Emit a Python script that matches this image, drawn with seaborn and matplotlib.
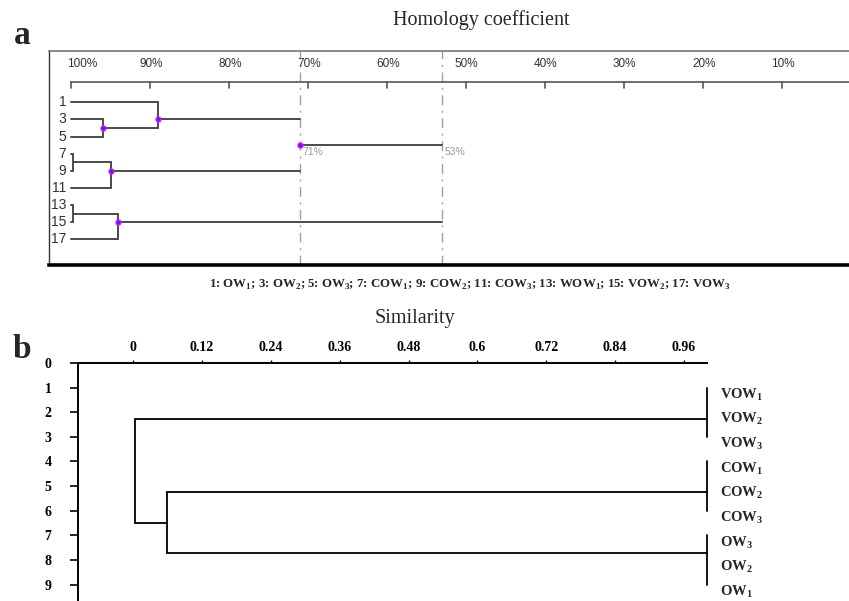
import numpy as np
import pandas as pd
import matplotlib
matplotlib.use("Agg")
import matplotlib.pyplot as plt
import seaborn as sns

# ---- data: panel a (homology coefficient, %) ----
a_leaves = ['1', '3', '5', '7', '9', '11', '13', '15', '17']
a_rows = [1, 3, 5, 7, 9, 11, 13, 15, 17]
# merges: (cluster, cluster, similarity %)
a_merges = [
    ('7', '9', 99.7),
    ('13', '15', 99.7),
    ('3', '5', 96.0),
    ('7+9', '11', 95.0),
    ('13+15', '17', 94.0),
    ('1', '3+5', 89.0),
    ('1+3+5', '7+9+11', 71.0),
    ('1+3+5+7+9+11', '13+15+17', 53.0),
]
a_cuts = [71, 53]
a_ticks = [100, 90, 80, 70, 60, 50, 40, 30, 20, 10]
a_ticklabels = ['100%', '90%', '80%', '70%', '60%', '50%', '40%', '30%', '20%', '10%']

# ---- data: panel b (similarity) ----
b_leaves = ['VOW_1', 'VOW_2', 'VOW_3', 'COW_1', 'COW_2', 'COW_3', 'OW_3', 'OW_2', 'OW_1']
b_rows = [1, 2, 3, 4, 5, 6, 7, 8, 9]
b_groups = ['VOW', 'COW', 'OW']
b_group_leaves = [[1, 2, 3], [4, 5, 6], [7, 8, 9]]
b_group_node = [2.28, 5.25, 7.73]
b_group_sim = 1.0
b_merges = [('COW', 'OW', 0.059), ('VOW', 'COW+OW', 0.003)]
b_ticks = [0, 0.12, 0.24, 0.36, 0.48, 0.6, 0.72, 0.84, 0.96]
b_ticklabels = ['0', '0.12', '0.24', '0.36', '0.48', '0.6', '0.72', '0.84', '0.96']

caption = ('1: OW$_{\\mathbf{1}}$; 3: OW$_{\\mathbf{2}}$; 5: OW$_{\\mathbf{3}}$; '
           '7: COW$_{\\mathbf{1}}$; 9: COW$_{\\mathbf{2}}$; 11: COW$_{\\mathbf{3}}$; '
           '13: WOW$_{\\mathbf{1}}$; 15: VOW$_{\\mathbf{2}}$; 17: VOW$_{\\mathbf{3}}$')

sns.set_style("white")
plt.rcParams['font.family'] = ['Liberation Serif', 'DejaVu Serif']
plt.rcParams['mathtext.fontset'] = 'custom'
plt.rcParams['mathtext.rm'] = 'Liberation Serif'
plt.rcParams['mathtext.bf'] = 'Liberation Serif:bold'

SANS = ['Liberation Sans', 'DejaVu Sans']

W, H = 849, 601
fig = plt.figure(figsize=(W / 100, H / 100), dpi=100)


def rect(x0, y0, x1, y1):
    return [x0 / W, 1 - y1 / H, (x1 - x0) / W, (y1 - y0) / H]


def snap(mid):
    if float(mid).is_integer():
        return mid
    lo = int(np.floor(mid))
    return lo if lo % 2 == 1 else lo + 1


# ================= panel a =================
axa = fig.add_axes(rect(49, 51, 849, 265))
axa.set_xlim(102.8, 1.5)
axa.set_ylim(20.0, -5.0)

nodes = {name: (100.0, r) for name, r in zip(a_leaves, a_rows)}
segs, dots = [], []
for left, right, s in a_merges:
    xa, ya = nodes[left]
    xb, yb = nodes[right]
    segs.append([(xa, ya), (s, ya)])
    segs.append([(xb, yb), (s, yb)])
    if s not in a_cuts:
        segs.append([(s, ya), (s, yb)])
    ny = snap((ya + yb) / 2)
    nodes[left + '+' + right] = (s, ny)
    if s < 99 and s != a_merges[-1][2]:
        dots.append((s, ny))

rows = []
for i, seg in enumerate(segs):
    for x, y in seg:
        rows.append({'seg': i, 'x': x, 'y': y})
seg_a = pd.DataFrame(rows)

# dash-dot cut lines
for c in a_cuts:
    axa.axvline(c, color='#a0a0a0', lw=1.0, linestyle=(0, (7, 4, 1.5, 4)), zorder=1)
    axa.text(c - 0.3, 6.2, f'{c}%', color='#9a9a9a', fontsize=7.5, va='top', ha='left',
             family=SANS)

sns.lineplot(data=seg_a, x='x', y='y', units='seg', estimator=None, sort=False,
             color='#4a4a4a', lw=1.4, ax=axa, zorder=2)
dot_df = pd.DataFrame(dots, columns=['x', 'y'])
sns.scatterplot(data=dot_df, x='x', y='y', ax=axa, s=13, color='#3030ff',
                edgecolor='#ff00ff', linewidth=0.9, zorder=3)

# ruler
axa.plot([100, 1.5], [-1.38, -1.38], color='#555555', lw=1.2, clip_on=False)
for t, lab in zip(a_ticks, a_ticklabels):
    axa.plot([t, t], [-1.38, -0.68], color='#555555', lw=1.2)
    axa.text(t - (1.4 if t == 100 else 0.1), -3.5, lab, ha='center', va='center',
             fontsize=8.5, color='#333333', family=SANS)

for lab, r in zip(a_leaves, a_rows):
    axa.text(100.6, r, lab, ha='right', va='center', fontsize=10, color='#333333',
             family=SANS)

axa.set_xticks([])
axa.set_yticks([])
axa.set_xlabel('')
axa.set_ylabel('')
axa.spines['right'].set_visible(False)
axa.spines['top'].set_color('#808080')
axa.spines['top'].set_linewidth(1.3)
axa.spines['left'].set_color('#333333')
axa.spines['left'].set_linewidth(1.0)
axa.spines['bottom'].set_color('black')
axa.spines['bottom'].set_linewidth(2.6)

# ================= panel b =================
axb = fig.add_axes(rect(78, 363, 707, 601))
axb.set_xlim(-0.096, 1.0)
axb.set_ylim(9.67, 0)

bnodes = {}
segs = []
for g, lv, ny in zip(b_groups, b_group_leaves, b_group_node):
    segs.append([(b_group_sim, min(lv)), (b_group_sim, max(lv))])
    bnodes[g] = (b_group_sim, ny)
for left, right, s in b_merges:
    xa, ya = bnodes[left]
    xb, yb = bnodes[right]
    segs.append([(xa, ya), (s, ya)])
    segs.append([(xb, yb), (s, yb)])
    segs.append([(s, ya), (s, yb)])
    bnodes[left + '+' + right] = (s, (ya + yb) / 2)

rows = []
for i, seg in enumerate(segs):
    for x, y in seg:
        rows.append({'seg': i, 'x': x, 'y': y})
seg_b = pd.DataFrame(rows)
sns.lineplot(data=seg_b, x='x', y='y', units='seg', estimator=None, sort=False,
             color='black', lw=1.3, ax=axb)
for ln in axb.lines:
    ln.set_clip_on(False)

for lab, r in zip(b_leaves, b_rows):
    name, sub = lab.split('_')
    axb.text(1.022, r + 0.28, name + '$_{\\mathbf{' + sub + '}}$', fontsize=10.5,
             fontweight='bold', ha='left', va='center', clip_on=False)

axb.xaxis.tick_top()
axb.set_xticks(b_ticks)
axb.set_xticklabels(b_ticklabels, fontsize=10, fontweight='bold')
axb.set_yticks(range(10))
axb.set_yticklabels([str(i) for i in range(10)], fontsize=10, fontweight='bold')
axb.tick_params(axis='x', direction='out', length=2.5, width=1, pad=4, colors='black')
axb.tick_params(axis='y', direction='out', length=6, width=1.2, pad=13, colors='black')
axb.tick_params(left=True, top=True, bottom=False, right=False)
axb.set_xlabel('')
axb.set_ylabel('')
for sp in ['right', 'bottom']:
    axb.spines[sp].set_visible(False)
for sp in ['top', 'left']:
    axb.spines[sp].set_color('black')
    axb.spines[sp].set_linewidth(1.4)

# ================= texts =================
fig.text(22 / W, 1 - 36 / H, 'a', fontsize=24, fontweight='bold', ha='center', va='center')
fig.text(481 / W, 1 - 20 / H, 'Homology coefficient', fontsize=14.5, ha='center', va='center')
fig.text(470 / W, 1 - 285 / H, caption, fontsize=9.3, fontweight='bold', ha='center', va='center')
fig.text(415 / W, 1 - 318 / H, 'Similarity', fontsize=14.5, ha='center', va='center')
fig.text(22 / W, 1 - 350 / H, 'b', fontsize=24, fontweight='bold', ha='center', va='center')

fig.savefig('out.png', dpi=100)
